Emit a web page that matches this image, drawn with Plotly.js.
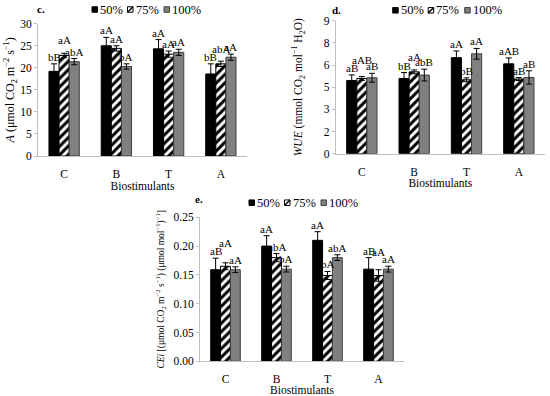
<!DOCTYPE html>
<html><head><meta charset="utf-8">
<script src="https://cdn.plot.ly/plotly-3.0.1.min.js"></script>
<style>html,body{margin:0;padding:0;background:#fff}#g{width:550px;height:396px}</style>
</head><body><div id="g"></div>
<script>
// ---- data ----
const categories = ['C', 'B', 'T', 'A'];
const seriesNames = ['50%', '75%', '100%'];

// panel c: A (µmol CO2 m-2 s-1)
const A_50 = [19.2, 25.0, 24.3, 18.6];
const A_75 = [22.8, 24.4, 23.1, 20.9];
const A_100 = [21.4, 20.3, 23.5, 22.4];
const A_50_err = [1.7, 1.9, 2.1, 2.3];
const A_75_err = [0.5, 0.6, 0.7, 0.6];
const A_100_err = [0.7, 0.6, 0.7, 0.7];
const A_50_lab = ['bB', 'aA', 'aA', 'bB'];
const A_75_lab = ['aA', 'aA', 'aA', 'abA'];
const A_100_lab = ['abA', 'bA', 'aA', 'aA'];

// panel d: WUE (mmol CO2 mol-1 H2O)
const W_50 = [4.95, 5.09, 6.5, 6.08];
const W_75 = [5.09, 5.54, 5.0, 5.05];
const W_100 = [5.14, 5.32, 6.76, 5.16];
const W_50_err = [0.38, 0.4, 0.45, 0.4];
const W_75_err = [0.13, 0.13, 0.13, 0.1];
const W_100_err = [0.3, 0.4, 0.36, 0.45];
const W_50_lab = ['aB', 'bB', 'aA', 'aAB'];
const W_75_lab = ['aAB', 'aA', 'bB', 'aB'];
const W_100_lab = ['aB', 'abB', 'aA', 'aB'];
const W_tickvals = [0, 1.5, 3, 4.5, 6, 7.5, 9];
const W_ticktext = ['0', '2', '3', '5', '6', '8', '9'];

// panel e: CEi
const C_50 = [0.159, 0.200, 0.210, 0.160];
const C_75 = [0.165, 0.180, 0.149, 0.149];
const C_100 = [0.159, 0.160, 0.180, 0.160];
const C_50_err = [0.02, 0.018, 0.015, 0.02];
const C_75_err = [0.006, 0.007, 0.007, 0.01];
const C_100_err = [0.005, 0.005, 0.005, 0.005];
const C_50_lab = ['aB', 'aA', 'aA', 'aB'];
const C_75_lab = ['aA', 'abA', 'bA', 'aA'];
const C_100_lab = ['aA', 'bA', 'abA', 'aA'];

// ---- styling ----
const W = 550, H = 396;
const FONT = "'Liberation Serif', 'Times New Roman', serif";
const px = v => v / W, py = v => (H - v) / H;
const BARGAP = 0.42;

const styles = [
  {color: '#000000', line: {color: '#000000', width: 1}},
  {color: '#ffffff', line: {color: '#000000', width: 1}, pattern: {shape: '/', fgcolor: '#000000', bgcolor: '#ffffff', size: 6, solidity: 0.5}},
  {color: '#808080', line: {color: '#3f3f3f', width: 1}}
];

// label lifts in pixels (layout only), per series per category
const panels = [
  {xa: 'x', ya: 'y', xd: [38, 247], yd: [156, 23.7],
   vals: [A_50, A_75, A_100], errs: [A_50_err, A_75_err, A_100_err], labs: [A_50_lab, A_75_lab, A_100_lab],
   lift: [[0, 0, 0, 0], [6, 0, 0, 5], [0, 0, 0, 0]],
   label: 'c.', labelPos: [35, 9], legendX: 92, legendY: 9.5},
  {xa: 'x2', ya: 'y2', xd: [335.7, 545], yd: [153.7, 20.7],
   vals: [W_50, W_75, W_100], errs: [W_50_err, W_75_err, W_100_err], labs: [W_50_lab, W_75_lab, W_100_lab],
   lift: [[0, 0, 0, 0], [10, 6, 0, 0], [0, 0, 0, 0]],
   label: 'd.', labelPos: [330, 10], legendX: 392.7, legendY: 10.3},
  {xa: 'x3', ya: 'y3', xd: [200, 404], yd: [361.3, 217.3],
   vals: [C_50, C_75, C_100], errs: [C_50_err, C_75_err, C_100_err], labs: [C_50_lab, C_75_lab, C_100_lab],
   lift: [[0, 0, 0, 0], [13, 0, 0, 11], [0, 0, 0, 0]],
   label: 'e.', labelPos: [193, 199], legendX: 249, legendY: 202.7}
];

const data = [];
const annotations = [];
const shapes = [];

panels.forEach(p => {
  const catPx = (p.xd[1] - p.xd[0]) / categories.length;
  const barPx = catPx * (1 - BARGAP) / 3;
  seriesNames.forEach((nm, s) => {
    data.push({
      type: 'bar', name: nm, x: categories, y: p.vals[s], xaxis: p.xa, yaxis: p.ya,
      marker: styles[s], showlegend: false,
      error_y: {type: 'data', array: p.errs[s], visible: true, color: '#000', thickness: 1, width: 3},
      hoverinfo: 'skip'
    });
    categories.forEach((c, i) => {
      annotations.push({
        xref: p.xa, yref: p.ya, x: c, y: p.vals[s][i] + p.errs[s][i],
        xshift: (s - 1) * barPx, yshift: -1 + p.lift[s][i], yanchor: 'bottom', xanchor: 'center',
        text: p.labs[s][i], showarrow: false,
        font: {family: FONT, size: 11, color: '#000'}
      });
    });
  });
  // panel label
  annotations.push({xref: 'paper', yref: 'paper', x: px(p.labelPos[0]), y: py(p.labelPos[1]),
    xanchor: 'left', yanchor: 'middle', text: '<b>' + p.label + '</b>', showarrow: false,
    font: {family: FONT, size: 11, color: '#000'}});
  // custom legend
  let lx = p.legendX;
  const ly = p.legendY;
  const sq = 5.5;
  seriesNames.forEach((nm, s) => {
    const x0 = lx, x1 = lx + sq, y0 = ly - sq / 2, y1 = ly + sq / 2;
    if (s === 0) {
      shapes.push({type: 'rect', xref: 'paper', yref: 'paper', x0: px(x0), x1: px(x1), y0: py(y1), y1: py(y0),
        fillcolor: '#000', line: {color: '#000', width: 1}});
    } else if (s === 1) {
      shapes.push({type: 'rect', xref: 'paper', yref: 'paper', x0: px(x0), x1: px(x1), y0: py(y1), y1: py(y0),
        fillcolor: '#fff', line: {color: '#000', width: 1}});
      shapes.push({type: 'line', xref: 'paper', yref: 'paper', x0: px(x0), x1: px(x1), y0: py(y1), y1: py(y0),
        line: {color: '#000', width: 1.5}});
    } else {
      shapes.push({type: 'rect', xref: 'paper', yref: 'paper', x0: px(x0), x1: px(x1), y0: py(y1), y1: py(y0),
        fillcolor: '#808080', line: {color: '#3f3f3f', width: 1}});
    }
    annotations.push({xref: 'paper', yref: 'paper', x: px(x1 + 0.5), y: py(ly), xanchor: 'left', yanchor: 'middle',
      text: nm, showarrow: false, font: {family: FONT, size: 12.5, color: '#000'}});
    lx += (s === 0 ? 35.5 : 36.5);
  });
});

const axisFont = {family: FONT, size: 11.5, color: '#000'};
function xaxis(p, anchor) {
  return {domain: [px(p.xd[0]), px(p.xd[1])], anchor: anchor, type: 'category',
    showline: true, linecolor: '#bfbfbf', linewidth: 1, ticks: '', ticklabelstandoff: 7,
    tickfont: axisFont, showgrid: false, zeroline: false, fixedrange: true,
    title: {text: 'Biostimulants', font: axisFont, standoff: 2}};
}
function yaxis(p, anchor, extra) {
  return Object.assign({domain: [py(p.yd[0]), py(p.yd[1])], anchor: anchor,
    showline: true, linecolor: '#bfbfbf', linewidth: 1, ticks: 'outside', ticklen: 3, tickcolor: '#bfbfbf',
    tickfont: axisFont, showgrid: false, zeroline: false, fixedrange: true}, extra);
}

const layout = {
  width: W, height: H, autosize: false,
  margin: {l: 0, r: 0, t: 0, b: 0, pad: 0},
  paper_bgcolor: '#fff', plot_bgcolor: 'rgba(0,0,0,0)',
  barmode: 'group', bargap: BARGAP, bargroupgap: 0,
  showlegend: false,
  font: {family: FONT, color: '#000'},
  xaxis: xaxis(panels[0], 'y'),
  yaxis: yaxis(panels[0], 'x', {range: [0, 30], dtick: 5,
    title: {text: '<i>A</i> (μmol CO<sub>2</sub> m<sup>−2</sup> s<sup>−1</sup>)', font: {family: FONT, size: 12, color: '#000'}, standoff: 2}}),
  xaxis2: xaxis(panels[1], 'y2'),
  yaxis2: yaxis(panels[1], 'x2', {range: [0, 9], tickvals: W_tickvals, ticktext: W_ticktext,
    title: {text: '<i>WUE</i> (mmol CO<sub>2</sub> mol<sup>−1</sup> H<sub>2</sub>O)', font: {family: FONT, size: 11.5, color: '#000'}, standoff: 18}}),
  xaxis3: xaxis(panels[2], 'y3'),
  yaxis3: yaxis(panels[2], 'x3', {range: [0, 0.25], dtick: 0.05, tickformat: '.2f',
    title: {text: '<i>CEi</i> [(μmol CO<sub>2</sub> m<sup>−2</sup> s<sup>−1</sup>) (μmol mol<sup>−1</sup>)<sup>−1</sup>]', font: {family: FONT, size: 9.5, color: '#000'}, standoff: 7}}),
  annotations: annotations,
  shapes: shapes
};

Plotly.newPlot('g', data, layout, {displayModeBar: false, staticPlot: true});
</script>
</body></html>
